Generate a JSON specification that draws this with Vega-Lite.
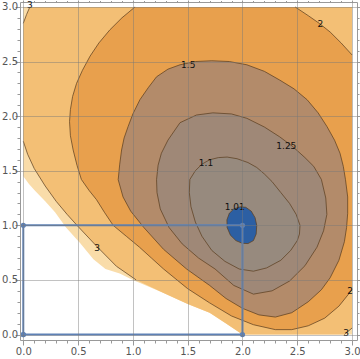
{
  "$schema": "https://vega.github.io/schema/vega-lite/v6.json",
  "width": 337,
  "height": 338,
  "autosize": "none",
  "padding": {"left": 20, "top": 2, "right": 3, "bottom": 19},
  "background": "white",
  "config": {"view": {"stroke": null}},
  "datasets": {
    "fills": [
      {"s":"a","i":0,"x":0,"y":3},{"s":"a","i":1,"x":3,"y":3},{"s":"a","i":2,"x":3,"y":0},{"s":"a","i":3,"x":2.0,"y":0},
      {"s":"a","i":4,"x":1.85,"y":0.1},{"s":"a","i":5,"x":1.7,"y":0.2},{"s":"a","i":6,"x":1.5,"y":0.28},{"s":"a","i":7,"x":1.28,"y":0.38},
      {"s":"a","i":8,"x":1.0,"y":0.5},{"s":"a","i":9,"x":0.88,"y":0.56},{"s":"a","i":10,"x":0.75,"y":0.6},{"s":"a","i":11,"x":0.64,"y":0.69},
      {"s":"a","i":12,"x":0.516,"y":0.84},{"s":"a","i":13,"x":0.39,"y":0.98},{"s":"a","i":14,"x":0.29,"y":1.12},{"s":"a","i":15,"x":0.2,"y":1.22},
      {"s":"a","i":16,"x":0.105,"y":1.32},{"s":"a","i":17,"x":0.05,"y":1.38},{"s":"a","i":18,"x":0,"y":1.45},

      {"s":"b","i":0,"x":0.06,"y":3},{"s":"b","i":1,"x":3,"y":3},{"s":"b","i":2,"x":3,"y":0.06},{"s":"b","i":3,"x":2.93,"y":0},
      {"s":"b","i":4,"x":2.0,"y":0},{"s":"b","i":5,"x":1.85,"y":0.1},{"s":"b","i":6,"x":1.7,"y":0.2},{"s":"b","i":7,"x":1.5,"y":0.28},
      {"s":"b","i":8,"x":1.28,"y":0.38},{"s":"b","i":9,"x":1.03,"y":0.5},{"s":"b","i":10,"x":0.85,"y":0.625},{"s":"b","i":11,"x":0.668,"y":0.81},
      {"s":"b","i":12,"x":0.49,"y":1.0},{"s":"b","i":13,"x":0.4,"y":1.1},{"s":"b","i":14,"x":0.3,"y":1.22},{"s":"b","i":15,"x":0.2,"y":1.36},
      {"s":"b","i":16,"x":0.1,"y":1.52},{"s":"b","i":17,"x":0.04,"y":1.65},{"s":"b","i":18,"x":0,"y":1.77},{"s":"b","i":19,"x":0,"y":2.85},
      {"s":"b","i":20,"x":0.03,"y":2.93},

      {"s":"c","i":0,"x":1.02,"y":3.0},{"s":"c","i":1,"x":0.9,"y":2.9},{"s":"c","i":2,"x":0.79,"y":2.79},{"s":"c","i":3,"x":0.69,"y":2.67},
      {"s":"c","i":4,"x":0.61,"y":2.55},{"s":"c","i":5,"x":0.54,"y":2.42},{"s":"c","i":6,"x":0.486,"y":2.3},{"s":"c","i":7,"x":0.45,"y":2.18},
      {"s":"c","i":8,"x":0.43,"y":2.06},{"s":"c","i":9,"x":0.422,"y":1.95},{"s":"c","i":10,"x":0.43,"y":1.82},{"s":"c","i":11,"x":0.455,"y":1.69},
      {"s":"c","i":12,"x":0.49,"y":1.55},{"s":"c","i":13,"x":0.53,"y":1.42},{"s":"c","i":14,"x":0.6,"y":1.32},{"s":"c","i":15,"x":0.668,"y":1.235},
      {"s":"c","i":16,"x":0.74,"y":1.12},{"s":"c","i":17,"x":0.82,"y":1.0},{"s":"c","i":18,"x":0.94,"y":0.9},{"s":"c","i":19,"x":1.06,"y":0.8},
      {"s":"c","i":20,"x":1.17,"y":0.7},{"s":"c","i":21,"x":1.28,"y":0.6},{"s":"c","i":22,"x":1.5,"y":0.42},{"s":"c","i":23,"x":1.7,"y":0.29},
      {"s":"c","i":24,"x":1.9,"y":0.17},{"s":"c","i":25,"x":2.1,"y":0.09},{"s":"c","i":26,"x":2.3,"y":0.045},{"s":"c","i":27,"x":2.45,"y":0.045},
      {"s":"c","i":28,"x":2.6,"y":0.08},{"s":"c","i":29,"x":2.75,"y":0.15},{"s":"c","i":30,"x":2.88,"y":0.26},{"s":"c","i":31,"x":3.0,"y":0.41},
      {"s":"c","i":32,"x":3.0,"y":2.56},{"s":"c","i":33,"x":2.9,"y":2.67},{"s":"c","i":34,"x":2.8,"y":2.77},{"s":"c","i":35,"x":2.7,"y":2.85},
      {"s":"c","i":36,"x":2.6,"y":2.92},{"s":"c","i":37,"x":2.48,"y":3.0},

      {"s":"d","i":0,"x":0.866,"y":1.418},{"s":"d","i":1,"x":0.88,"y":1.56},{"s":"d","i":2,"x":0.897,"y":1.69},{"s":"d","i":3,"x":0.92,"y":1.8},
      {"s":"d","i":4,"x":0.957,"y":1.906},{"s":"d","i":5,"x":1.0,"y":2.02},{"s":"d","i":6,"x":1.064,"y":2.15},{"s":"d","i":7,"x":1.14,"y":2.26},
      {"s":"d","i":8,"x":1.216,"y":2.36},{"s":"d","i":9,"x":1.32,"y":2.43},{"s":"d","i":10,"x":1.43,"y":2.47},{"s":"d","i":11,"x":1.57,"y":2.5},
      {"s":"d","i":12,"x":1.72,"y":2.507},{"s":"d","i":13,"x":1.88,"y":2.5},{"s":"d","i":14,"x":2.04,"y":2.47},{"s":"d","i":15,"x":2.2,"y":2.41},
      {"s":"d","i":16,"x":2.34,"y":2.33},{"s":"d","i":17,"x":2.47,"y":2.25},{"s":"d","i":18,"x":2.59,"y":2.15},{"s":"d","i":19,"x":2.69,"y":2.03},
      {"s":"d","i":20,"x":2.77,"y":1.906},{"s":"d","i":21,"x":2.84,"y":1.78},{"s":"d","i":22,"x":2.89,"y":1.66},{"s":"d","i":23,"x":2.92,"y":1.54},
      {"s":"d","i":24,"x":2.94,"y":1.418},{"s":"d","i":25,"x":2.96,"y":1.26},{"s":"d","i":26,"x":2.96,"y":1.11},{"s":"d","i":27,"x":2.95,"y":0.98},
      {"s":"d","i":28,"x":2.93,"y":0.85},{"s":"d","i":29,"x":2.88,"y":0.68},{"s":"d","i":30,"x":2.8,"y":0.52},{"s":"d","i":31,"x":2.72,"y":0.41},
      {"s":"d","i":32,"x":2.6,"y":0.3},{"s":"d","i":33,"x":2.45,"y":0.2},{"s":"d","i":34,"x":2.3,"y":0.16},{"s":"d","i":35,"x":2.15,"y":0.18},
      {"s":"d","i":36,"x":2.0,"y":0.24},{"s":"d","i":37,"x":1.85,"y":0.33},{"s":"d","i":38,"x":1.7,"y":0.45},{"s":"d","i":39,"x":1.49,"y":0.6},
      {"s":"d","i":40,"x":1.28,"y":0.78},{"s":"d","i":41,"x":1.1,"y":0.98},{"s":"d","i":42,"x":0.98,"y":1.13},{"s":"d","i":43,"x":0.91,"y":1.26},
      {"s":"d","i":44,"x":0.866,"y":1.418},

      {"s":"e","i":0,"x":1.216,"y":1.418},{"s":"e","i":1,"x":1.23,"y":1.55},{"s":"e","i":2,"x":1.26,"y":1.66},{"s":"e","i":3,"x":1.32,"y":1.78},
      {"s":"e","i":4,"x":1.43,"y":1.94},{"s":"e","i":5,"x":1.58,"y":2.01},{"s":"e","i":6,"x":1.73,"y":2.03},{"s":"e","i":7,"x":1.9,"y":2.02},
      {"s":"e","i":8,"x":2.04,"y":1.98},{"s":"e","i":9,"x":2.2,"y":1.9},{"s":"e","i":10,"x":2.34,"y":1.81},{"s":"e","i":11,"x":2.46,"y":1.72},
      {"s":"e","i":12,"x":2.57,"y":1.62},{"s":"e","i":13,"x":2.65,"y":1.54},{"s":"e","i":14,"x":2.72,"y":1.42},{"s":"e","i":15,"x":2.76,"y":1.25},
      {"s":"e","i":16,"x":2.77,"y":1.1},{"s":"e","i":17,"x":2.74,"y":0.95},{"s":"e","i":18,"x":2.68,"y":0.8},{"s":"e","i":19,"x":2.57,"y":0.63},
      {"s":"e","i":20,"x":2.43,"y":0.49},{"s":"e","i":21,"x":2.27,"y":0.4},{"s":"e","i":22,"x":2.1,"y":0.37},{"s":"e","i":23,"x":1.92,"y":0.45},
      {"s":"e","i":24,"x":1.75,"y":0.6},{"s":"e","i":25,"x":1.6,"y":0.7},{"s":"e","i":26,"x":1.45,"y":0.83},{"s":"e","i":27,"x":1.33,"y":0.98},
      {"s":"e","i":28,"x":1.25,"y":1.15},{"s":"e","i":29,"x":1.22,"y":1.3},{"s":"e","i":30,"x":1.216,"y":1.418},

      {"s":"f","i":0,"x":1.52,"y":1.42},{"s":"f","i":1,"x":1.57,"y":1.5},{"s":"f","i":2,"x":1.63,"y":1.56},{"s":"f","i":3,"x":1.7,"y":1.6},
      {"s":"f","i":4,"x":1.78,"y":1.62},{"s":"f","i":5,"x":1.86,"y":1.625},{"s":"f","i":6,"x":1.95,"y":1.61},{"s":"f","i":7,"x":2.05,"y":1.575},
      {"s":"f","i":8,"x":2.13,"y":1.53},{"s":"f","i":9,"x":2.2,"y":1.47},{"s":"f","i":10,"x":2.27,"y":1.4},{"s":"f","i":11,"x":2.35,"y":1.3},
      {"s":"f","i":12,"x":2.43,"y":1.2},{"s":"f","i":13,"x":2.49,"y":1.1},{"s":"f","i":14,"x":2.525,"y":1.0},{"s":"f","i":15,"x":2.52,"y":0.92},
      {"s":"f","i":16,"x":2.5,"y":0.86},{"s":"f","i":17,"x":2.44,"y":0.77},{"s":"f","i":18,"x":2.35,"y":0.68},{"s":"f","i":19,"x":2.22,"y":0.61},
      {"s":"f","i":20,"x":2.1,"y":0.58},{"s":"f","i":21,"x":1.97,"y":0.6},{"s":"f","i":22,"x":1.84,"y":0.67},{"s":"f","i":23,"x":1.72,"y":0.77},
      {"s":"f","i":24,"x":1.63,"y":0.9},{"s":"f","i":25,"x":1.57,"y":1.03},{"s":"f","i":26,"x":1.53,"y":1.17},{"s":"f","i":27,"x":1.515,"y":1.3},
      {"s":"f","i":28,"x":1.52,"y":1.42},

      {"s":"g","i":0,"x":1.98,"y":1.17},{"s":"g","i":1,"x":1.92,"y":1.15},{"s":"g","i":2,"x":1.88,"y":1.11},{"s":"g","i":3,"x":1.858,"y":1.05},
      {"s":"g","i":4,"x":1.86,"y":0.98},{"s":"g","i":5,"x":1.89,"y":0.91},{"s":"g","i":6,"x":1.94,"y":0.86},{"s":"g","i":7,"x":2.0,"y":0.835},
      {"s":"g","i":8,"x":2.05,"y":0.833},{"s":"g","i":9,"x":2.1,"y":0.86},{"s":"g","i":10,"x":2.125,"y":0.92},{"s":"g","i":11,"x":2.13,"y":1.0},
      {"s":"g","i":12,"x":2.115,"y":1.07},{"s":"g","i":13,"x":2.08,"y":1.13},{"s":"g","i":14,"x":2.03,"y":1.165},{"s":"g","i":15,"x":1.98,"y":1.17}
    ],
    "lines": [
      {"s":"3a","i":0,"x":0,"y":2.85},{"s":"3a","i":1,"x":0.03,"y":2.93},{"s":"3a","i":2,"x":0.06,"y":3.0},
      {"s":"3b","i":0,"x":0,"y":1.77},{"s":"3b","i":1,"x":0.04,"y":1.65},{"s":"3b","i":2,"x":0.1,"y":1.52},{"s":"3b","i":3,"x":0.2,"y":1.36},
      {"s":"3b","i":4,"x":0.3,"y":1.22},{"s":"3b","i":5,"x":0.4,"y":1.1},{"s":"3b","i":6,"x":0.49,"y":1.0},{"s":"3b","i":7,"x":0.668,"y":0.81},
      {"s":"3b","i":8,"x":0.85,"y":0.625},{"s":"3b","i":9,"x":1.03,"y":0.5},
      {"s":"3c","i":0,"x":2.93,"y":0},{"s":"3c","i":1,"x":3.0,"y":0.06},
      {"s":"2a","i":0,"x":1.02,"y":3.0},{"s":"2a","i":1,"x":0.9,"y":2.9},{"s":"2a","i":2,"x":0.79,"y":2.79},{"s":"2a","i":3,"x":0.69,"y":2.67},
      {"s":"2a","i":4,"x":0.61,"y":2.55},{"s":"2a","i":5,"x":0.54,"y":2.42},{"s":"2a","i":6,"x":0.486,"y":2.3},{"s":"2a","i":7,"x":0.45,"y":2.18},
      {"s":"2a","i":8,"x":0.43,"y":2.06},{"s":"2a","i":9,"x":0.422,"y":1.95},{"s":"2a","i":10,"x":0.43,"y":1.82},{"s":"2a","i":11,"x":0.455,"y":1.69},
      {"s":"2a","i":12,"x":0.49,"y":1.55},{"s":"2a","i":13,"x":0.53,"y":1.42},{"s":"2a","i":14,"x":0.6,"y":1.32},{"s":"2a","i":15,"x":0.668,"y":1.235},
      {"s":"2a","i":16,"x":0.74,"y":1.12},{"s":"2a","i":17,"x":0.82,"y":1.0},{"s":"2a","i":18,"x":0.94,"y":0.9},{"s":"2a","i":19,"x":1.06,"y":0.8},
      {"s":"2a","i":20,"x":1.17,"y":0.7},{"s":"2a","i":21,"x":1.28,"y":0.6},{"s":"2a","i":22,"x":1.5,"y":0.42},{"s":"2a","i":23,"x":1.7,"y":0.29},
      {"s":"2a","i":24,"x":1.9,"y":0.17},{"s":"2a","i":25,"x":2.1,"y":0.09},{"s":"2a","i":26,"x":2.3,"y":0.045},{"s":"2a","i":27,"x":2.45,"y":0.045},
      {"s":"2a","i":28,"x":2.6,"y":0.08},{"s":"2a","i":29,"x":2.75,"y":0.15},{"s":"2a","i":30,"x":2.88,"y":0.26},{"s":"2a","i":31,"x":3.0,"y":0.41},
      {"s":"2b","i":0,"x":3.0,"y":2.56},{"s":"2b","i":1,"x":2.9,"y":2.67},{"s":"2b","i":2,"x":2.8,"y":2.77},{"s":"2b","i":3,"x":2.7,"y":2.85},
      {"s":"2b","i":4,"x":2.6,"y":2.92},{"s":"2b","i":5,"x":2.48,"y":3.0},
      {"s":"15","i":0,"x":0.866,"y":1.418},{"s":"15","i":1,"x":0.88,"y":1.56},{"s":"15","i":2,"x":0.897,"y":1.69},{"s":"15","i":3,"x":0.92,"y":1.8},
      {"s":"15","i":4,"x":0.957,"y":1.906},{"s":"15","i":5,"x":1.0,"y":2.02},{"s":"15","i":6,"x":1.064,"y":2.15},{"s":"15","i":7,"x":1.14,"y":2.26},
      {"s":"15","i":8,"x":1.216,"y":2.36},{"s":"15","i":9,"x":1.32,"y":2.43},{"s":"15","i":10,"x":1.43,"y":2.47},{"s":"15","i":11,"x":1.57,"y":2.5},
      {"s":"15","i":12,"x":1.72,"y":2.507},{"s":"15","i":13,"x":1.88,"y":2.5},{"s":"15","i":14,"x":2.04,"y":2.47},{"s":"15","i":15,"x":2.2,"y":2.41},
      {"s":"15","i":16,"x":2.34,"y":2.33},{"s":"15","i":17,"x":2.47,"y":2.25},{"s":"15","i":18,"x":2.59,"y":2.15},{"s":"15","i":19,"x":2.69,"y":2.03},
      {"s":"15","i":20,"x":2.77,"y":1.906},{"s":"15","i":21,"x":2.84,"y":1.78},{"s":"15","i":22,"x":2.89,"y":1.66},{"s":"15","i":23,"x":2.92,"y":1.54},
      {"s":"15","i":24,"x":2.94,"y":1.418},{"s":"15","i":25,"x":2.96,"y":1.26},{"s":"15","i":26,"x":2.96,"y":1.11},{"s":"15","i":27,"x":2.95,"y":0.98},
      {"s":"15","i":28,"x":2.93,"y":0.85},{"s":"15","i":29,"x":2.88,"y":0.68},{"s":"15","i":30,"x":2.8,"y":0.52},{"s":"15","i":31,"x":2.72,"y":0.41},
      {"s":"15","i":32,"x":2.6,"y":0.3},{"s":"15","i":33,"x":2.45,"y":0.2},{"s":"15","i":34,"x":2.3,"y":0.16},{"s":"15","i":35,"x":2.15,"y":0.18},
      {"s":"15","i":36,"x":2.0,"y":0.24},{"s":"15","i":37,"x":1.85,"y":0.33},{"s":"15","i":38,"x":1.7,"y":0.45},{"s":"15","i":39,"x":1.49,"y":0.6},
      {"s":"15","i":40,"x":1.28,"y":0.78},{"s":"15","i":41,"x":1.1,"y":0.98},{"s":"15","i":42,"x":0.98,"y":1.13},{"s":"15","i":43,"x":0.91,"y":1.26},
      {"s":"15","i":44,"x":0.866,"y":1.418},
      {"s":"125","i":0,"x":1.216,"y":1.418},{"s":"125","i":1,"x":1.23,"y":1.55},{"s":"125","i":2,"x":1.26,"y":1.66},{"s":"125","i":3,"x":1.32,"y":1.78},
      {"s":"125","i":4,"x":1.43,"y":1.94},{"s":"125","i":5,"x":1.58,"y":2.01},{"s":"125","i":6,"x":1.73,"y":2.03},{"s":"125","i":7,"x":1.9,"y":2.02},
      {"s":"125","i":8,"x":2.04,"y":1.98},{"s":"125","i":9,"x":2.2,"y":1.9},{"s":"125","i":10,"x":2.34,"y":1.81},{"s":"125","i":11,"x":2.46,"y":1.72},
      {"s":"125","i":12,"x":2.57,"y":1.62},{"s":"125","i":13,"x":2.65,"y":1.54},{"s":"125","i":14,"x":2.72,"y":1.42},{"s":"125","i":15,"x":2.76,"y":1.25},
      {"s":"125","i":16,"x":2.77,"y":1.1},{"s":"125","i":17,"x":2.74,"y":0.95},{"s":"125","i":18,"x":2.68,"y":0.8},{"s":"125","i":19,"x":2.57,"y":0.63},
      {"s":"125","i":20,"x":2.43,"y":0.49},{"s":"125","i":21,"x":2.27,"y":0.4},{"s":"125","i":22,"x":2.1,"y":0.37},{"s":"125","i":23,"x":1.92,"y":0.45},
      {"s":"125","i":24,"x":1.75,"y":0.6},{"s":"125","i":25,"x":1.6,"y":0.7},{"s":"125","i":26,"x":1.45,"y":0.83},{"s":"125","i":27,"x":1.33,"y":0.98},
      {"s":"125","i":28,"x":1.25,"y":1.15},{"s":"125","i":29,"x":1.22,"y":1.3},{"s":"125","i":30,"x":1.216,"y":1.418},
      {"s":"11","i":0,"x":1.52,"y":1.42},{"s":"11","i":1,"x":1.57,"y":1.5},{"s":"11","i":2,"x":1.63,"y":1.56},{"s":"11","i":3,"x":1.7,"y":1.6},
      {"s":"11","i":4,"x":1.78,"y":1.62},{"s":"11","i":5,"x":1.86,"y":1.625},{"s":"11","i":6,"x":1.95,"y":1.61},{"s":"11","i":7,"x":2.05,"y":1.575},
      {"s":"11","i":8,"x":2.13,"y":1.53},{"s":"11","i":9,"x":2.2,"y":1.47},{"s":"11","i":10,"x":2.27,"y":1.4},{"s":"11","i":11,"x":2.35,"y":1.3},
      {"s":"11","i":12,"x":2.43,"y":1.2},{"s":"11","i":13,"x":2.49,"y":1.1},{"s":"11","i":14,"x":2.525,"y":1.0},{"s":"11","i":15,"x":2.52,"y":0.92},
      {"s":"11","i":16,"x":2.5,"y":0.86},{"s":"11","i":17,"x":2.44,"y":0.77},{"s":"11","i":18,"x":2.35,"y":0.68},{"s":"11","i":19,"x":2.22,"y":0.61},
      {"s":"11","i":20,"x":2.1,"y":0.58},{"s":"11","i":21,"x":1.97,"y":0.6},{"s":"11","i":22,"x":1.84,"y":0.67},{"s":"11","i":23,"x":1.72,"y":0.77},
      {"s":"11","i":24,"x":1.63,"y":0.9},{"s":"11","i":25,"x":1.57,"y":1.03},{"s":"11","i":26,"x":1.53,"y":1.17},{"s":"11","i":27,"x":1.515,"y":1.3},
      {"s":"11","i":28,"x":1.52,"y":1.42},
      {"s":"101","i":0,"x":1.98,"y":1.17},{"s":"101","i":1,"x":1.92,"y":1.15},{"s":"101","i":2,"x":1.88,"y":1.11},{"s":"101","i":3,"x":1.858,"y":1.05},
      {"s":"101","i":4,"x":1.86,"y":0.98},{"s":"101","i":5,"x":1.89,"y":0.91},{"s":"101","i":6,"x":1.94,"y":0.86},{"s":"101","i":7,"x":2.0,"y":0.835},
      {"s":"101","i":8,"x":2.05,"y":0.833},{"s":"101","i":9,"x":2.1,"y":0.86},{"s":"101","i":10,"x":2.125,"y":0.92},{"s":"101","i":11,"x":2.13,"y":1.0},
      {"s":"101","i":12,"x":2.115,"y":1.07},{"s":"101","i":13,"x":2.08,"y":1.13},{"s":"101","i":14,"x":2.03,"y":1.165},{"s":"101","i":15,"x":1.98,"y":1.17}
    ],
    "rect": [
      {"i":0,"x":0,"y":0},{"i":1,"x":0,"y":1},{"i":2,"x":2,"y":1},{"i":3,"x":2,"y":0},{"i":4,"x":0,"y":0}
    ],
    "labels": [
      {"t":"3","x":0.06,"y":3.02},{"t":"2","x":2.71,"y":2.84},{"t":"1.5","x":1.505,"y":2.47},
      {"t":"1.25","x":2.4,"y":1.73},{"t":"1.1","x":1.667,"y":1.571},{"t":"1.01","x":1.93,"y":1.168},
      {"t":"3","x":0.674,"y":0.793},{"t":"2","x":2.982,"y":0.396},{"t":"3","x":2.945,"y":0.016}
    ]
  },
  "resolve": {"axis": {"x": "independent", "y": "independent"}},
  "layer": [
    {
      "data": {"name": "fills"},
      "mark": {"type": "line", "strokeWidth": 0, "interpolate": "linear"},
      "encoding": {
        "x": {"field": "x", "type": "quantitative", "scale": {"domain": [-0.03, 3.045], "nice": false, "zero": false},
          "axis": {"orient": "bottom", "title": null, "zindex": 1,
            "values": [0,0.1,0.2,0.3,0.4,0.5,0.6,0.7,0.8,0.9,1,1.1,1.2,1.3,1.4,1.5,1.6,1.7,1.8,1.9,2,2.1,2.2,2.3,2.4,2.5,2.6,2.7,2.8,2.9,3],
            "labelExpr": "abs(datum.value*2-round(datum.value*2))<0.001 ? format(datum.value,'.1f') : ''",
            "labelFont": "DejaVu Sans", "labelFontSize": 10, "labelColor": "#555", "labelPadding": 1, "labelFlush": false,
            "tickColor": "#999", "domainColor": "#999",
            "tickSize": {"condition": {"test": "abs(datum.value*2-round(datum.value*2))<0.001", "value": 5}, "value": 3},
            "grid": true, "gridColor": "#777",
            "gridOpacity": {"condition": {"test": "abs(datum.value*2-round(datum.value*2))<0.001", "value": 0.45}, "value": 0}}},
        "y": {"field": "y", "type": "quantitative", "scale": {"domain": [-0.05, 3.045], "nice": false, "zero": false},
          "axis": {"orient": "left", "title": null, "zindex": 1,
            "values": [0,0.1,0.2,0.3,0.4,0.5,0.6,0.7,0.8,0.9,1,1.1,1.2,1.3,1.4,1.5,1.6,1.7,1.8,1.9,2,2.1,2.2,2.3,2.4,2.5,2.6,2.7,2.8,2.9,3],
            "labelExpr": "abs(datum.value*2-round(datum.value*2))<0.001 ? format(datum.value,'.1f') : ''",
            "labelFont": "DejaVu Sans", "labelFontSize": 10, "labelColor": "#555", "labelPadding": -2.5, "labelFlush": false,
            "tickColor": "#999", "domainColor": "#999",
            "tickSize": {"condition": {"test": "abs(datum.value*2-round(datum.value*2))<0.001", "value": 5}, "value": 3},
            "grid": true, "gridColor": "#777",
            "gridOpacity": {"condition": {"test": "abs(datum.value*2-round(datum.value*2))<0.001", "value": 0.45}, "value": 0}}},
        "fill": {"field": "s", "type": "nominal", "legend": null,
          "scale": {"domain": ["a","b","c","d","e","f","g"],
                    "range": ["#F9DCA9","#F3BF75","#E8A04D","#B38B6A","#9F8877","#978A7E","#2C5FA3"]}},
        "order": {"field": "i", "type": "quantitative"}
      }
    },
    {
      "data": {"name": "lines"},
      "mark": {"type": "line", "color": "#5A3E1E", "strokeWidth": 0.9, "opacity": 0.8},
      "encoding": {
        "x": {"field": "x", "type": "quantitative",
          "axis": {"orient": "top", "title": null, "labels": false, "grid": false,
            "values": [0,0.1,0.2,0.3,0.4,0.5,0.6,0.7,0.8,0.9,1,1.1,1.2,1.3,1.4,1.5,1.6,1.7,1.8,1.9,2,2.1,2.2,2.3,2.4,2.5,2.6,2.7,2.8,2.9,3],
            "tickColor": "#999", "domainColor": "#999",
            "tickSize": {"condition": {"test": "abs(datum.value*2-round(datum.value*2))<0.001", "value": 2}, "value": 1.5}}},
        "y": {"field": "y", "type": "quantitative",
          "axis": {"orient": "right", "title": null, "labels": false, "grid": false,
            "values": [0,0.1,0.2,0.3,0.4,0.5,0.6,0.7,0.8,0.9,1,1.1,1.2,1.3,1.4,1.5,1.6,1.7,1.8,1.9,2,2.1,2.2,2.3,2.4,2.5,2.6,2.7,2.8,2.9,3],
            "tickColor": "#999", "domainColor": "#999",
            "tickSize": {"condition": {"test": "abs(datum.value*2-round(datum.value*2))<0.001", "value": 3}, "value": 2}}},
        "detail": {"field": "s", "type": "nominal"},
        "order": {"field": "i", "type": "quantitative"}
      }
    },
    {
      "data": {"name": "rect"},
      "mark": {"type": "line", "color": "#5E81B5", "strokeWidth": 2, "point": {"filled": true, "size": 28, "color": "#5E81B5"}},
      "encoding": {
        "x": {"field": "x", "type": "quantitative", "axis": null},
        "y": {"field": "y", "type": "quantitative", "axis": null},
        "order": {"field": "i", "type": "quantitative"}
      }
    },
    {
      "data": {"name": "labels"},
      "mark": {"type": "text", "font": "DejaVu Sans", "fontSize": 9, "color": "#111"},
      "encoding": {
        "x": {"field": "x", "type": "quantitative", "axis": null},
        "y": {"field": "y", "type": "quantitative", "axis": null},
        "text": {"field": "t", "type": "nominal"}
      }
    }
  ]
}
